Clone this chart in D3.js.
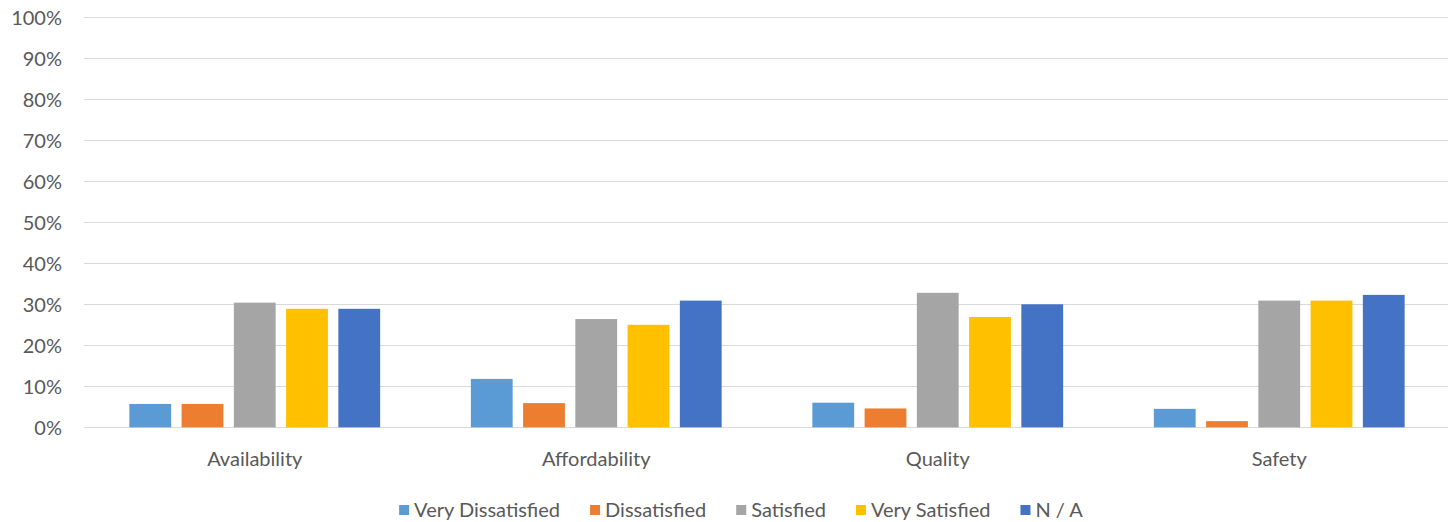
<!DOCTYPE html>
<html>
<head>
<meta charset="utf-8">
<script src="https://cdn.jsdelivr.net/npm/d3@7"></script>
<style>
	body { margin: 0; background: #fff; }
	text { font-family: Lato, "Open Sans", sans-serif; fill: #595959; }
</style>
</head>
<body>
<div id="chart"></div>
<script>
const categories = ["Availability", "Affordability", "Quality", "Safety"];
const seriesNames = ["Very Dissatisfied", "Dissatisfied", "Satisfied", "Very Satisfied", "N / A"];
const veryDissatisfied = [5.7, 11.8, 6.0, 4.5];
const dissatisfied = [5.7, 5.9, 4.6, 1.5];
const satisfied = [30.4, 26.4, 32.8, 30.9];
const verySatisfied = [28.9, 25.0, 26.9, 30.9];
const notApplicable = [28.9, 30.9, 30.0, 32.3];
const yTicks = [0, 10, 20, 30, 40, 50, 60, 70, 80, 90, 100];

const colors = ["#5B9BD5", "#ED7D31", "#A5A5A5", "#FFC000", "#4472C4"];
const seriesValues = [veryDissatisfied, dissatisfied, satisfied, verySatisfied, notApplicable];

const W = 1449, H = 522;
const plot = { left: 84, right: 1450, top: 17.3, bottom: 427.3 };
const fontSize = "20px";

const svg = d3.select("#chart").append("svg")
	.attr("width", W)
	.attr("height", H);

const x0 = d3.scaleBand()
	.domain(categories)
	.range([plot.left, plot.right])
	.padding(0);

const groupGap = 45.35;
const x1 = d3.scaleBand()
	.domain(seriesNames)
	.range([groupGap, x0.bandwidth() - groupGap])
	.paddingInner(0.2)
	.paddingOuter(0);

const y = d3.scaleLinear()
	.domain([0, 100])
	.range([plot.bottom, plot.top]);

// gridlines
svg.append("g")
	.selectAll("line")
	.data(yTicks)
	.join("line")
	.attr("x1", plot.left)
	.attr("x2", plot.right - 2)
	.attr("y1", d => Math.round(y(d)) + 0.5)
	.attr("y2", d => Math.round(y(d)) + 0.5)
	.attr("stroke", "#d9d9d9")
	.attr("stroke-width", 1);

// y labels
svg.append("g")
	.selectAll("text")
	.data(yTicks)
	.join("text")
	.attr("x", 62)
	.attr("y", d => y(d))
	.attr("dy", "0.36em")
	.attr("text-anchor", "end")
	.style("font-size", fontSize)
	.text(d => d + "%");

// bars
const rows = categories.map((c, i) => ({
	category: c,
	values: seriesNames.map((s, j) => ({ series: s, value: seriesValues[j][i], color: colors[j] }))
}));

const groups = svg.append("g")
	.selectAll("g")
	.data(rows)
	.join("g")
	.attr("transform", d => `translate(${x0(d.category)},0)`);

groups.selectAll("rect")
	.data(d => d.values)
	.join("rect")
	.attr("x", d => x1(d.series))
	.attr("y", d => y(d.value))
	.attr("width", x1.bandwidth())
	.attr("height", d => plot.bottom - y(d.value))
	.attr("fill", d => d.color);

// category labels
svg.append("g")
	.selectAll("text")
	.data(categories)
	.join("text")
	.attr("x", d => x0(d) + x0.bandwidth() / 2)
	.attr("y", 466)
	.attr("text-anchor", "middle")
	.style("font-size", fontSize)
	.text(d => d);

// legend
const legend = svg.append("g");
const items = legend.selectAll("g")
	.data(seriesNames)
	.join("g");

items.append("rect")
	.attr("width", 10)
	.attr("height", 10)
	.attr("y", 505)
	.attr("fill", (d, i) => colors[i]);

items.append("text")
	.attr("x", 15)
	.attr("y", 517)
	.style("font-size", fontSize)
	.text(d => d);

let offset = 0;
const positions = [];
items.each(function () {
	const w = this.querySelector("text").getComputedTextLength();
	positions.push(offset);
	offset += 15 + w + 30;
});
const totalW = offset - 30;
const startX = 741 - totalW / 2;
items.attr("transform", (d, i) => `translate(${startX + positions[i]},0)`);
</script>
</body>
</html>
